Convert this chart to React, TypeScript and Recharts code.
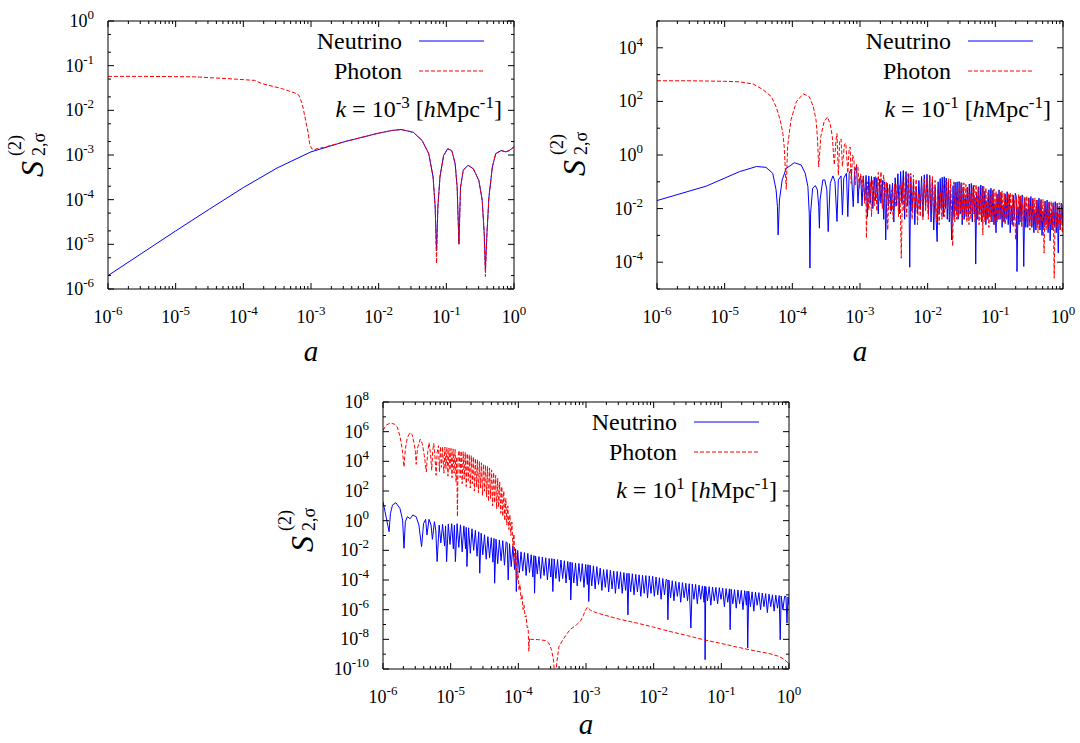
import { Legend, Line, LineChart, XAxis, YAxis } from 'recharts';

const FONT = '"Liberation Serif", "Times New Roman", serif';

// curves, as [log10 a, log10 S] pairs

// k = 1e-3
const p1Neutrino = [
  [-6.0, -5.7], [-5.5, -5.2], [-5.0, -4.7], [-4.5, -4.21], [-4.0, -3.73], [-3.5, -3.29], [-3.0, -2.93],
  [-2.5, -2.7], [-2.0, -2.51], [-1.8, -2.45], [-1.67, -2.43], [-1.49, -2.49], [-1.36, -2.67], [-1.26, -2.97],
  [-1.196, -3.49], [-1.165, -4.16], [-1.145, -5.15], [-1.125, -4.16], [-1.094, -3.49], [-1.04, -3.01],
  [-0.98, -2.86], [-0.92, -2.9], [-0.87, -3.19], [-0.84, -3.72], [-0.814, -4.99], [-0.79, -3.72], [-0.75, -3.34],
  [-0.68, -3.23], [-0.6, -3.31], [-0.52, -3.57], [-0.47, -4.01], [-0.44, -4.76], [-0.423, -5.55], [-0.4, -4.76],
  [-0.37, -3.94], [-0.32, -3.27], [-0.27, -2.97], [-0.19, -2.9], [-0.12, -2.93], [-0.07, -2.9], [0, -2.82],
];

const p1Photon = [
  [-6.0, -1.24], [-5.5, -1.24], [-5.0, -1.245], [-4.72, -1.25], [-4.23, -1.29], [-3.83, -1.33], [-3.73, -1.4],
  [-3.44, -1.51], [-3.24, -1.61], [-3.18, -1.66], [-3.13, -1.85], [-3.08, -2.22], [-3.04, -2.52], [-3.02, -2.75],
  [-2.99, -2.86], [-2.95, -2.88], [-2.89, -2.85], [-2.81, -2.83], [-2.5, -2.7], [-2.0, -2.51], [-1.8, -2.45],
  [-1.67, -2.43], [-1.49, -2.49], [-1.36, -2.67], [-1.26, -2.97], [-1.196, -3.49], [-1.165, -4.16], [-1.145, -5.43],
  [-1.125, -4.16], [-1.094, -3.49], [-1.04, -3.01], [-0.98, -2.86], [-0.92, -2.9], [-0.87, -3.19], [-0.84, -3.72],
  [-0.814, -5.0], [-0.79, -3.72], [-0.75, -3.34], [-0.68, -3.23], [-0.6, -3.31], [-0.52, -3.57], [-0.47, -4.01],
  [-0.44, -4.76], [-0.423, -5.72], [-0.4, -4.76], [-0.37, -3.94], [-0.32, -3.27], [-0.27, -2.97], [-0.19, -2.9],
  [-0.12, -2.93], [-0.07, -2.9], [0, -2.82],
];

// k = 1e-1
const p2Neutrino = [
  [-6.0, -1.7], [-5.27, -1.16], [-4.78, -0.62], [-4.53, -0.43], [-4.39, -0.46], [-4.29, -0.68], [-4.24, -1.3],
  [-4.22, -1.93], [-4.21, -2.98], [-4.19, -1.68], [-4.15, -0.93], [-4.09, -0.5], [-3.97, -0.29], [-3.87, -0.37],
  [-3.81, -0.68], [-3.77, -1.18], [-3.75, -2.17], [-3.74, -4.22], [-3.73, -2.17], [-3.7, -1.24], [-3.66, -1.14],
  [-3.63, -1.3], [-3.61, -1.93], [-3.6, -2.73], [-3.59, -1.68], [-3.55, -0.93], [-3.52, -0.93], [-3.49, -1.3],
  [-3.47, -2.86], [-3.44, -1.06], [-3.4, -0.78], [-3.37, -0.99], [-3.34, -2.48], [-3.32, -0.93], [-3.28, -0.78],
  [-3.26, -2.24], [-3.24, -0.87], [-3.2, -0.68], [-3.18, -2.3], [-3.16, -0.68], [-3.13, -0.53], [-3.1, -1.93],
  [-3.08, -0.62], [-3.05, -0.4], [-3.03, -1.8], [-3.01, -0.93],
  [-2.99, -0.8], [-2.97, -1.9], [-2.95, -0.78], [-2.93, -1.7], [-2.91, -0.76], [-2.89, -2.3], [-2.87, -0.78],
  [-2.85, -1.8], [-2.83, -0.8], [-2.81, -2.0], [-2.79, -0.82], [-2.77, -1.7], [-2.75, -0.85], [-2.73, -2.2],
  [-2.71, -0.9], [-2.69, -1.8], [-2.67, -0.95], [-2.65, -2.4], [-2.635, -1.0], [-2.62, -3.17], [-2.6, -1.05],
  [-2.58, -1.9], [-2.56, -1.1], [-2.54, -2.1], [-2.52, -1.05], [-2.5, -2.5], [-2.48, -0.85], [-2.46, -1.9],
  [-2.44, -0.7], [-2.42, -2.2], [-2.4, -0.62], [-2.38, -1.8], [-2.36, -0.58], [-2.34, -2.4], [-2.32, -0.62],
  [-2.3, -1.9], [-2.28, -0.7], [-2.265, -4.19], [-2.25, -0.8], [-2.23, -2.1], [-2.21, -1.0], [-2.19, -2.6],
  [-2.17, -1.2], [-2.15, -2.2], [-2.13, -0.95], [-2.11, -2.0], [-2.09, -0.8], [-2.07, -2.3], [-2.05, -0.74],
  [-2.03, -1.9], [-2.01, -0.72], [-1.99, -2.2], [-1.97, -0.76], [-1.95, -2.5], [-1.93, -0.9], [-1.91, -2.8],
  [-1.89, -1.2], [-1.875, -2.4], [-1.86, -3.23], [-1.845, -1.0], [-1.83, -2.2], [-1.815, -0.88], [-1.8, -2.0],
  [-1.785, -0.83], [-1.77, -2.3], [-1.755, -0.81], [-1.74, -2.0], [-1.725, -0.86], [-1.71, -2.4], [-1.695, -1.0],
  [-1.68, -2.5], [-1.665, -1.3], [-1.645, -3.17], [-1.625, -1.15], [-1.61, -2.3], [-1.595, -1.02], [-1.58, -2.1],
  [-1.565, -1.0], [-1.55, -2.4], [-1.535, -0.99], [-1.52, -2.2], [-1.505, -1.03], [-1.49, -2.6], [-1.475, -1.2],
  [-1.46, -2.4], [-1.445, -1.5], [-1.43, -2.3], [-1.415, -1.2], [-1.4, -2.3], [-1.385, -1.08], [-1.37, -2.2],
  [-1.355, -1.06], [-1.34, -2.5], [-1.325, -1.12], [-1.31, -2.2], [-1.3, -1.6], [-1.29, -4.07], [-1.275, -1.4],
  [-1.26, -2.4], [-1.245, -1.18], [-1.23, -2.2], [-1.215, -1.12], [-1.2, -2.5], [-1.185, -1.16], [-1.17, -2.3],
  [-1.155, -1.35], [-1.14, -2.6], [-1.125, -1.7], [-1.11, -2.4], [-1.095, -1.3], [-1.08, -2.3], [-1.065, -1.24],
  [-1.05, -2.5], [-1.035, -1.32], [-1.02, -2.6], [-1.005, -1.8], [-0.99, -2.9], [-0.975, -1.45], [-0.96, -2.4],
  [-0.945, -1.3], [-0.93, -2.4], [-0.915, -1.4], [-0.9, -2.7], [-0.885, -1.85], [-0.87, -2.5], [-0.855, -1.45],
  [-0.84, -2.4], [-0.825, -1.37], [-0.81, -2.6], [-0.795, -1.5], [-0.78, -2.9], [-0.765, -1.9], [-0.75, -2.6],
  [-0.735, -1.5], [-0.72, -2.4], [-0.705, -1.43], [-0.69, -1.55], [-0.68, -4.35], [-0.665, -1.95], [-0.65, -2.6],
  [-0.635, -1.55], [-0.62, -2.5], [-0.605, -1.49], [-0.595, -1.52], [-0.58, -4.16], [-0.565, -1.6], [-0.55, -2.7],
  [-0.535, -2.0], [-0.52, -2.7], [-0.505, -1.6], [-0.49, -2.5], [-0.475, -1.55], [-0.46, -2.7], [-0.445, -1.62],
  [-0.43, -2.9], [-0.415, -2.05], [-0.4, -2.8], [-0.385, -1.68], [-0.37, -2.6], [-0.355, -1.61], [-0.34, -2.8],
  [-0.325, -1.66], [-0.31, -3.0], [-0.295, -2.1], [-0.28, -2.7], [-0.265, -1.72], [-0.25, -2.6], [-0.235, -1.68],
  [-0.22, -2.9], [-0.205, -1.75], [-0.19, -3.2], [-0.175, -2.15], [-0.16, -2.8], [-0.145, -1.78], [-0.13, -2.7],
  [-0.115, -1.74], [-0.1, -2.9], [-0.085, -1.8], [-0.07, -3.66], [-0.055, -1.9], [-0.04, -2.8], [-0.025, -1.8],
  [-0.01, -2.6], [0, -1.85],
];

const p2Photon = [
  [-6.0, 2.77], [-5.5, 2.77], [-5.0, 2.75], [-4.78, 2.73], [-4.58, 2.65], [-4.44, 2.45], [-4.31, 2.18],
  [-4.24, 1.8], [-4.18, 1.31], [-4.14, 0.81], [-4.12, 0.31], [-4.09, -1.28], [-4.07, 0.31], [-4.02, 1.31],
  [-3.94, 1.99], [-3.84, 2.28], [-3.75, 2.18], [-3.69, 1.8], [-3.65, 1.31], [-3.63, 0.68], [-3.61, -0.45],
  [-3.58, 0.68], [-3.53, 1.25], [-3.48, 1.42], [-3.44, 1.15], [-3.41, 0.7], [-3.38, -0.37], [-3.355, 0.55],
  [-3.34, 0.8], [-3.32, -0.75], [-3.3, 0.5], [-3.28, 0.6], [-3.26, -0.43], [-3.23, 0.4], [-3.21, 0.45],
  [-3.18, -0.68], [-3.16, 0.25], [-3.145, 0.3], [-3.13, -1.06], [-3.11, 0.0], [-3.09, -0.15], [-3.07, -1.12],
  [-3.05, -0.35], [-3.03, -0.45], [-3.01, -1.24], [-2.99, -0.7], [-2.97, -1.2], [-2.955, -0.8], [-2.93, -1.8],
  [-2.915, -0.95], [-2.905, -3.1], [-2.89, -1.0], [-2.87, -2.05], [-2.85, -0.99], [-2.83, -2.3], [-2.81, -0.92],
  [-2.79, -1.9], [-2.77, -0.8], [-2.75, -2.1], [-2.73, -0.65], [-2.71, -1.7], [-2.69, -0.62], [-2.67, -2.0],
  [-2.65, -0.75], [-2.63, -1.55], [-2.61, -1.0], [-2.59, -2.8], [-2.57, -1.2], [-2.55, -2.2], [-2.53, -1.3],
  [-2.51, -2.4], [-2.49, -1.1], [-2.47, -1.95], [-2.45, -1.05], [-2.43, -2.3], [-2.41, -1.1], [-2.39, -3.85],
  [-2.37, -1.0], [-2.35, -2.1], [-2.33, -0.8], [-2.31, -2.3], [-2.29, -0.7], [-2.27, -1.9], [-2.25, -0.68],
  [-2.23, -2.4], [-2.21, -0.75], [-2.19, -2.0], [-2.17, -0.9], [-2.15, -2.6], [-2.13, -1.4], [-2.11, -2.3],
  [-2.09, -1.05], [-2.07, -2.42], [-2.05, -0.9], [-2.03, -2.1], [-2.01, -0.82], [-1.99, -2.4], [-1.97, -0.78],
  [-1.95, -2.0], [-1.93, -0.8], [-1.91, -2.3], [-1.89, -0.95], [-1.87, -2.5], [-1.85, -1.2], [-1.83, -2.6],
  [-1.81, -1.4], [-1.79, -2.4], [-1.77, -1.1], [-1.75, -2.3], [-1.73, -0.95], [-1.71, -2.0], [-1.69, -0.88],
  [-1.675, -2.4], [-1.66, -0.9], [-1.645, -2.2], [-1.63, -3.4], [-1.615, -1.0], [-1.6, -2.5], [-1.585, -1.3],
  [-1.57, -2.4], [-1.555, -1.2], [-1.54, -2.3], [-1.525, -1.1], [-1.51, -2.1], [-1.495, -1.05], [-1.48, -2.4],
  [-1.465, -1.04], [-1.45, -2.2], [-1.435, -1.1], [-1.42, -2.5], [-1.405, -1.25], [-1.39, -2.6], [-1.375, -1.45],
  [-1.36, -2.4], [-1.345, -1.2], [-1.33, -2.2], [-1.315, -1.12], [-1.3, -2.5], [-1.285, -1.1], [-1.27, -2.3],
  [-1.255, -1.2], [-1.24, -2.6], [-1.225, -1.5], [-1.21, -2.4], [-1.195, -1.25], [-1.185, -2.98], [-1.17, -1.18],
  [-1.155, -2.5], [-1.14, -1.22], [-1.125, -2.4], [-1.11, -1.4], [-1.095, -2.7], [-1.08, -1.5], [-1.065, -2.5],
  [-1.05, -1.32], [-1.035, -2.3], [-1.02, -1.27], [-1.005, -2.6], [-0.99, -1.35], [-0.975, -2.5], [-0.96, -1.5],
  [-0.945, -2.4], [-0.93, -1.38], [-0.915, -2.3], [-0.9, -1.34], [-0.885, -2.5], [-0.87, -1.42], [-0.855, -2.6],
  [-0.84, -1.6], [-0.825, -2.4], [-0.81, -1.45], [-0.795, -2.3], [-0.78, -1.4], [-0.765, -2.5], [-0.75, -1.48],
  [-0.735, -2.7], [-0.72, -1.7], [-0.7, -3.17], [-0.685, -1.6], [-0.67, -2.4], [-0.655, -1.47], [-0.64, -2.5],
  [-0.625, -1.52], [-0.61, -2.7], [-0.595, -1.8], [-0.58, -2.5], [-0.565, -1.58], [-0.55, -2.4], [-0.535, -1.53],
  [-0.52, -2.6], [-0.505, -1.6], [-0.49, -2.8], [-0.475, -1.9], [-0.46, -2.6], [-0.445, -1.65], [-0.43, -2.5],
  [-0.415, -1.6], [-0.4, -2.7], [-0.385, -1.68], [-0.37, -2.9], [-0.355, -2.0], [-0.34, -2.6], [-0.325, -1.7],
  [-0.31, -2.5], [-0.295, -1.66], [-0.28, -3.66], [-0.265, -1.72], [-0.25, -2.8], [-0.235, -2.0], [-0.22, -2.7],
  [-0.205, -1.75], [-0.19, -2.6], [-0.175, -1.72], [-0.16, -2.8], [-0.145, -1.8], [-0.13, -4.6], [-0.115, -1.9],
  [-0.1, -2.7], [-0.085, -1.8], [-0.07, -2.6], [-0.055, -1.78], [-0.04, -2.8], [-0.025, -1.85], [-0.01, -2.9],
  [0, -2.0],
];

// k = 1e1
const p3Neutrino = [
  [-6.0, 1.28], [-5.97, 0.61], [-5.94, -0.07], [-5.91, -0.74], [-5.89, 0.49], [-5.86, 1.05], [-5.81, 1.21],
  [-5.75, 0.83], [-5.71, 0.04], [-5.69, -1.86], [-5.67, -0.07], [-5.64, 0.27], [-5.6, 0.13], [-5.56, 0.38],
  [-5.51, 0.27], [-5.47, -0.29], [-5.43, -1.75], [-5.4, -0.18], [-5.37, 0.09], [-5.35, -0.96], [-5.32, 0.09],
  [-5.29, -0.29], [-5.27, -1.26], [-5.24, -0.07], [-5.22, -0.63], [-5.2, -2.76],
  [-5.17, -0.3], [-5.145, -1.5], [-5.12, -0.25], [-5.09, -1.7], [-5.075, -0.35], [-5.06, -2.76], [-5.035, -0.22],
  [-5.01, -1.6], [-4.985, -0.2], [-4.96, -1.9], [-4.945, -0.3], [-4.93, -2.76], [-4.905, -0.2], [-4.88, -1.8],
  [-4.855, -0.28], [-4.83, -2.1], [-4.805, -0.35], [-4.78, -1.9], [-4.77, -0.45], [-4.76, -3.09], [-4.735, -0.48],
  [-4.71, -2.2], [-4.685, -0.55], [-4.66, -2.0], [-4.635, -0.65], [-4.61, -2.4], [-4.585, -0.75], [-4.57, -3.54],
  [-4.55, -0.85], [-4.525, -2.3], [-4.5, -0.95], [-4.475, -2.6], [-4.45, -1.08], [-4.425, -2.5], [-4.4, -1.15],
  [-4.375, -2.8], [-4.36, -1.2], [-4.35, -4.22], [-4.33, -1.25], [-4.305, -2.9], [-4.28, -1.3], [-4.255, -2.7],
  [-4.23, -1.35], [-4.205, -3.0], [-4.18, -1.42], [-4.165, -1.5], [-4.15, -3.99], [-4.13, -1.55], [-4.105, -3.1],
  [-4.08, -1.7], [-4.055, -3.3], [-4.04, -1.9], [-4.03, -4.78], [-4.01, -2.0],
  [-3.985, -3.5], [-3.96, -2.1], [-3.935, -3.4], [-3.91, -2.15], [-3.885, -3.7], [-3.86, -2.2], [-3.835, -3.5],
  [-3.81, -2.3], [-3.785, -3.8], [-3.77, -2.35], [-3.76, -4.89], [-3.745, -2.38], [-3.72, -3.6], [-3.695, -2.42],
  [-3.67, -3.9], [-3.645, -2.45], [-3.62, -3.7], [-3.595, -2.5], [-3.57, -4.0], [-3.545, -2.55], [-3.52, -3.8],
  [-3.505, -2.55], [-3.49, -4.78], [-3.47, -2.58], [-3.445, -3.9], [-3.42, -2.62], [-3.395, -4.1], [-3.37, -2.65],
  [-3.345, -3.9], [-3.32, -2.7], [-3.295, -4.2], [-3.27, -2.75], [-3.245, -4.0], [-3.235, -2.8], [-3.225, -5.34],
  [-3.205, -2.82], [-3.18, -4.2], [-3.155, -2.85], [-3.13, -4.4], [-3.105, -2.88], [-3.08, -4.1], [-3.055, -2.9],
  [-3.03, -4.5], [-3.005, -2.95], [-2.98, -4.3], [-2.97, -2.97], [-2.96, -5.45], [-2.94, -3.0], [-2.915, -4.4],
  [-2.89, -3.05], [-2.865, -4.6], [-2.84, -3.1], [-2.815, -4.3], [-2.79, -3.2], [-2.765, -4.7], [-2.74, -3.3],
  [-2.715, -4.5], [-2.69, -3.3], [-2.665, -4.8], [-2.64, -3.35], [-2.615, -4.6], [-2.59, -3.4], [-2.565, -4.9],
  [-2.54, -3.42], [-2.515, -4.6], [-2.49, -3.45], [-2.465, -4.9], [-2.44, -3.5], [-2.415, -4.7], [-2.395, -3.55],
  [-2.38, -6.35], [-2.365, -3.55], [-2.34, -4.8], [-2.315, -3.58], [-2.29, -5.0], [-2.265, -3.62], [-2.24, -4.8],
  [-2.215, -3.65], [-2.19, -5.1], [-2.165, -3.68], [-2.14, -4.9], [-2.115, -3.7], [-2.09, -5.2], [-2.065, -3.72],
  [-2.04, -4.9], [-2.015, -3.75],
  [-1.99, -5.1], [-1.965, -3.8], [-1.94, -5.0], [-1.915, -3.85], [-1.89, -5.3], [-1.865, -3.9], [-1.84, -5.0],
  [-1.815, -3.95], [-1.8, -4.0], [-1.79, -6.68], [-1.775, -4.0], [-1.75, -5.2], [-1.725, -4.05], [-1.7, -5.4],
  [-1.675, -4.1], [-1.65, -5.1], [-1.625, -4.15], [-1.6, -5.5], [-1.575, -4.18], [-1.55, -5.2], [-1.525, -4.22],
  [-1.5, -5.4], [-1.475, -4.25], [-1.45, -7.24], [-1.43, -4.28], [-1.405, -5.3], [-1.38, -4.3], [-1.355, -5.6],
  [-1.33, -4.35], [-1.305, -5.3], [-1.28, -4.4], [-1.255, -5.5], [-1.245, -4.42], [-1.24, -9.37], [-1.23, -4.45],
  [-1.205, -5.4], [-1.18, -4.45], [-1.155, -5.7], [-1.13, -4.48], [-1.105, -5.4], [-1.08, -4.5], [-1.055, -5.6],
  [-1.03, -4.52], [-1.005, -5.3],
  [-0.98, -4.55], [-0.955, -5.8], [-0.93, -4.58], [-0.905, -5.5], [-0.88, -4.6], [-0.87, -7.35], [-0.855, -4.62],
  [-0.83, -5.6], [-0.805, -4.65], [-0.78, -5.9], [-0.755, -4.67], [-0.73, -5.6], [-0.705, -4.7], [-0.68, -6.0],
  [-0.655, -4.72], [-0.63, -5.7], [-0.62, -4.75], [-0.61, -8.58], [-0.595, -4.76], [-0.57, -5.8], [-0.545, -4.8],
  [-0.52, -6.1], [-0.495, -4.82], [-0.47, -5.7], [-0.445, -4.85], [-0.42, -6.0], [-0.395, -4.88], [-0.37, -5.8],
  [-0.345, -4.92], [-0.32, -6.2], [-0.295, -4.95], [-0.27, -5.8], [-0.245, -5.0], [-0.22, -6.1], [-0.195, -5.02],
  [-0.17, -5.9], [-0.145, -5.05], [-0.13, -8.03], [-0.115, -5.08], [-0.09, -6.0], [-0.065, -5.1], [-0.045, -5.12],
  [-0.03, -6.91], [-0.015, -5.15], [0, -5.7],
];

const p3Photon = [
  [-6.0, 6.1], [-5.95, 6.45], [-5.89, 6.59], [-5.83, 6.5], [-5.79, 6.32], [-5.75, 5.7], [-5.73, 5.2],
  [-5.71, 4.6], [-5.69, 3.62], [-5.67, 4.8], [-5.64, 5.6], [-5.6, 5.94], [-5.57, 5.8], [-5.54, 5.2],
  [-5.52, 4.6], [-5.51, 3.8], [-5.49, 4.9], [-5.45, 5.49], [-5.42, 5.2], [-5.39, 4.4], [-5.36, 3.29],
  [-5.34, 4.6], [-5.32, 5.25], [-5.3, 4.6], [-5.28, 3.4], [-5.265, 4.7], [-5.25, 5.2], [-5.235, 4.5],
  [-5.215, 3.06], [-5.2, 4.6], [-5.18, 5.05],
  [-5.165, 3.3], [-5.15, 5.0], [-5.135, 3.6], [-5.12, 4.98], [-5.1, 3.2], [-5.085, 4.96], [-5.07, 3.5],
  [-5.055, 4.93], [-5.04, 3.0], [-5.025, 4.9], [-5.01, 3.4], [-4.995, 4.87], [-4.98, 2.9], [-4.965, 4.84],
  [-4.95, 3.2], [-4.935, 4.8], [-4.92, 2.6], [-4.91, 4.3], [-4.9, 0.27], [-4.89, 4.3], [-4.875, 4.74],
  [-4.86, 2.9], [-4.845, 4.7], [-4.83, 2.5], [-4.815, 4.65], [-4.8, 2.8], [-4.785, 4.6], [-4.77, 2.3],
  [-4.755, 4.53], [-4.74, 2.7], [-4.725, 4.45], [-4.71, 2.2], [-4.695, 4.38], [-4.68, 2.5], [-4.665, 4.3],
  [-4.65, 2.0], [-4.635, 4.2], [-4.62, 2.3], [-4.605, 4.1], [-4.59, 1.9], [-4.575, 3.98], [-4.56, 2.2],
  [-4.545, 3.9], [-4.53, 1.7], [-4.515, 3.82], [-4.5, 2.0], [-4.485, 3.74], [-4.47, 1.6], [-4.455, 3.65],
  [-4.44, 1.3], [-4.425, 3.55], [-4.41, 1.5], [-4.395, 3.42], [-4.38, 1.0], [-4.365, 3.25], [-4.35, 1.2],
  [-4.335, 3.05], [-4.32, 0.8], [-4.305, 2.85], [-4.29, 0.9], [-4.275, 2.6], [-4.26, 0.5], [-4.245, 2.3],
  [-4.23, 0.3], [-4.215, 2.0], [-4.2, 0.0], [-4.185, 1.5], [-4.17, -0.3], [-4.155, 1.0], [-4.14, -0.6],
  [-4.125, 0.4], [-4.11, -1.0], [-4.095, -0.1], [-4.08, -1.8], [-4.065, -0.9], [-4.05, -2.9], [-4.035, -2.2],
  [-4.02, -4.0], [-4.005, -3.4], [-3.99, -4.7], [-3.975, -4.3], [-3.96, -5.3], [-3.945, -5.0], [-3.93, -6.0],
  [-3.915, -5.7], [-3.9, -6.5], [-3.885, -6.4], [-3.87, -7.2], [-3.855, -7.2], [-3.845, -8.8], [-3.835, -7.9],
  [-3.82, -8.0], [-3.7, -8.02], [-3.6, -8.08], [-3.55, -8.25], [-3.51, -8.7], [-3.48, -9.4], [-3.465, -10.3],
  [-3.455, -11.0], [-3.445, -10.3], [-3.43, -9.5], [-3.4, -8.5], [-3.33, -7.95], [-3.24, -7.36], [-3.14, -7.02],
  [-3.08, -6.75], [-3.04, -6.4], [-3.01, -6.05], [-2.98, -5.83], [-2.93, -6.05], [-2.85, -6.2], [-2.74, -6.35],
  [-2.5, -6.65], [-2.25, -6.9], [-2.0, -7.18], [-1.76, -7.47], [-1.5, -7.75], [-1.26, -8.03], [-1.0, -8.28],
  [-0.77, -8.52], [-0.5, -8.78], [-0.28, -8.97], [-0.15, -9.15], [-0.07, -9.35], [0, -9.65],
];

// axis decades (exponents of the labelled ticks)
const X_MAJOR = [-6, -5, -4, -3, -2, -1, 0];
const X_MINOR_STEPS = [2, 3, 4, 5, 6, 7, 8, 9];
const P1_Y_MAJOR = [-6, -5, -4, -3, -2, -1, 0];
const P1_Y_MINOR_STEPS = [2, 5];
const P2_Y_MAJOR = [-4, -2, 0, 2, 4];
const P2_Y_MINOR = [-5, -3, -1, 1, 3, 5];
const P3_Y_MAJOR = [-10, -8, -6, -4, -2, 0, 2, 4, 6, 8];
const P3_Y_MINOR = [-9, -7, -5, -3, -1, 1, 3, 5, 7];

const pow10 = (e: number) => Number(`1e${e}`);
const withSteps = (decades: number[], steps: number[]) =>
  decades.slice(0, -1).flatMap((e) => steps.map((m) => m * pow10(e)));
const sorted = (arr: number[]) => [...arr].sort((a, b) => a - b);

const X_TICKS = sorted([...X_MAJOR.map(pow10), ...withSteps(X_MAJOR, X_MINOR_STEPS)]);
const P1_Y_TICKS = sorted([...P1_Y_MAJOR.map(pow10), ...withSteps(P1_Y_MAJOR, P1_Y_MINOR_STEPS)]);
const P2_Y_TICKS = sorted([...P2_Y_MAJOR, ...P2_Y_MINOR].map(pow10));
const P3_Y_TICKS = sorted([...P3_Y_MAJOR, ...P3_Y_MINOR].map(pow10));

const toRows = (pairs: number[][]) => pairs.map(([la, ls]) => ({ a: 10 ** la, s: 10 ** ls }));

const CHART_W = 1080;
const CHART_H = 743;
const LEFT_W = 60;
const RIGHT_W = 8;
const TOP_H = 8;
const BOTTOM_H = 60;
const MAJOR_LEN = 6;
const MINOR_LEN = 3;

const isMajor = (v: number, majors: number[]) => majors.some((m) => Math.abs(Math.log10(v) - m) < 1e-6);
const expOf = (v: number) => Math.round(Math.log10(v));

const bottomTick = (props: any) => {
  const { x, y, payload } = props;
  const major = isMajor(payload.value, X_MAJOR);
  return (
    <g>
      <line x1={x} x2={x} y1={y} y2={y - (major ? MAJOR_LEN : MINOR_LEN)} stroke="#000" />
      {major && (
        <text x={x} y={y + 34} textAnchor="middle" fontFamily={FONT} fontSize={18} fill="#000">
          10<tspan dy={-8} fontSize={13}>{expOf(payload.value)}</tspan>
        </text>
      )}
    </g>
  );
};

const topTick = (props: any) => {
  const { x, y, payload } = props;
  const major = isMajor(payload.value, X_MAJOR);
  return <line x1={x} x2={x} y1={y} y2={y + (major ? MAJOR_LEN : MINOR_LEN)} stroke="#000" />;
};

const leftTick = (majors: number[]) => (props: any) => {
  const { x, y, payload } = props;
  const major = isMajor(payload.value, majors);
  return (
    <g>
      <line x1={x} x2={x + (major ? MAJOR_LEN : MINOR_LEN)} y1={y} y2={y} stroke="#000" />
      {major && (
        <text x={x - 14} y={y + 6} textAnchor="end" fontFamily={FONT} fontSize={18} fill="#000">
          10<tspan dy={-8} fontSize={13}>{expOf(payload.value)}</tspan>
        </text>
      )}
    </g>
  );
};

const rightTick = (majors: number[]) => (props: any) => {
  const { x, y, payload } = props;
  const major = isMajor(payload.value, majors);
  return <line x1={x} x2={x - (major ? MAJOR_LEN : MINOR_LEN)} y1={y} y2={y} stroke="#000" />;
};

type Frame = { left: number; top: number; right: number; bottom: number };

function PanelLegend({ payload, frame, kExp }: any) {
  const items = payload ?? [];
  return (
    <svg
      width={CHART_W}
      height={CHART_H}
      style={{ position: 'absolute', left: 0, top: 0, overflow: 'visible', pointerEvents: 'none' }}
    >
      {items.map((item: any, i: number) => {
        const y = frame.top + 20 + i * 30;
        return (
          <g key={item.value}>
            <text x={frame.right - 112} y={y + 8} textAnchor="end" fontFamily={FONT} fontSize={24} fill="#000">
              {item.value}
            </text>
            <line
              x1={frame.right - 95}
              x2={frame.right - 30}
              y1={y}
              y2={y}
              stroke={item.color}
              strokeWidth={1}
              strokeDasharray={item.value === 'Photon' ? '4 2' : undefined}
            />
          </g>
        );
      })}
      <text x={frame.right - 12} y={frame.top + 96} textAnchor="end" fontFamily={FONT} fontSize={24} fill="#000">
        <tspan fontStyle="italic">k</tspan> = 10
        <tspan dy={-9} fontSize={17}>{kExp}</tspan>
        <tspan dy={9}> [</tspan>
        <tspan fontStyle="italic">h</tspan>Mpc
        <tspan dy={-9} fontSize={17}>-1</tspan>
        <tspan dy={9}>]</tspan>
      </text>
    </svg>
  );
}

function YTitle({ x, y }: { x: number; y: number }) {
  return (
    <g transform={`translate(${x},${y}) rotate(-90)`} fontFamily={FONT} fill="#000">
      <text x={0} y={0} fontSize={32} fontStyle="italic">S</text>
      <text x={21} y={-22} fontSize={18}>(2)</text>
      <text x={21} y={2} fontSize={18}>2,σ</text>
    </g>
  );
}

interface PanelProps {
  frame: Frame;
  yDomain: [number, number];
  yTicks: number[];
  yMajor: number[];
  neutrino: number[][];
  photon: number[][];
  kExp: string;
  titleX: number;
  titleY: number;
  aBaseline: number;
}

function Panel({ frame, yDomain, yTicks, yMajor, neutrino, photon, kExp, titleX, titleY, aBaseline }: PanelProps) {
  const margin = {
    left: frame.left - LEFT_W,
    right: CHART_W - frame.right - RIGHT_W,
    top: frame.top - TOP_H,
    bottom: CHART_H - frame.bottom - BOTTOM_H,
  };
  const axisLine = { stroke: '#000', strokeWidth: 1 };
  const xCommon = {
    type: 'number' as const,
    dataKey: 'a',
    scale: 'log' as const,
    domain: [1e-6, 1],
    allowDataOverflow: true,
    ticks: X_TICKS,
    interval: 0 as const,
    tickSize: 0,
    tickMargin: 0,
    tickLine: false,
    axisLine,
  };
  const yCommon = {
    type: 'number' as const,
    scale: 'log' as const,
    domain: yDomain,
    allowDataOverflow: true,
    ticks: yTicks,
    interval: 0 as const,
    tickSize: 0,
    tickMargin: 0,
    tickLine: false,
    axisLine,
  };
  return (
    <div style={{ position: 'absolute', left: 0, top: 0 }}>
      <LineChart width={CHART_W} height={CHART_H} margin={margin}>
        <XAxis
          {...xCommon}
          xAxisId="b"
          orientation="bottom"
          height={BOTTOM_H}
          tick={bottomTick}
          label={{
            content: () => (
              <text
                x={(frame.left + frame.right) / 2}
                y={aBaseline}
                textAnchor="middle"
                fontFamily={FONT}
                fontSize={29}
                fontStyle="italic"
                fill="#000"
              >
                a
              </text>
            ),
          }}
        />
        <XAxis {...xCommon} xAxisId="t" orientation="top" height={TOP_H} tick={topTick} />
        <YAxis
          {...yCommon}
          yAxisId="l"
          orientation="left"
          width={LEFT_W}
          tick={leftTick(yMajor)}
          label={{ content: () => <YTitle x={titleX} y={titleY} /> }}
        />
        <YAxis {...yCommon} yAxisId="r" orientation="right" width={RIGHT_W} tick={rightTick(yMajor)} />
        <Legend
          verticalAlign="middle"
          align="center"
          layout="horizontal"
          wrapperStyle={{ left: 0, top: 0, width: CHART_W, height: CHART_H }}
          content={(props: any) => <PanelLegend payload={props.payload} frame={frame} kExp={kExp} />}
        />
        <Line
          xAxisId="b"
          yAxisId="l"
          data={toRows(neutrino)}
          dataKey="s"
          name="Neutrino"
          type="linear"
          stroke="#0000ff"
          strokeWidth={1}
          dot={false}
          activeDot={false}
          isAnimationActive={false}
        />
        <Line
          xAxisId="b"
          yAxisId="l"
          data={toRows(photon)}
          dataKey="s"
          name="Photon"
          type="linear"
          stroke="#ff0000"
          strokeWidth={1}
          strokeDasharray="4 2"
          dot={false}
          activeDot={false}
          isAnimationActive={false}
        />
      </LineChart>
    </div>
  );
}

export default function App() {
  return (
    <div
      style={{
        position: 'absolute',
        left: 0,
        top: 0,
        width: CHART_W,
        height: CHART_H,
        background: '#fff',
        fontFamily: FONT,
        overflow: 'hidden',
      }}
    >
      <Panel
        frame={{ left: 108, top: 21, right: 514, bottom: 289 }}
        yDomain={[1e-6, 1]}
        yTicks={P1_Y_TICKS}
        yMajor={P1_Y_MAJOR}
        neutrino={p1Neutrino}
        photon={p1Photon}
        kExp="-3"
        titleX={43}
        titleY={177}
        aBaseline={361}
      />
      <Panel
        frame={{ left: 657, top: 21, right: 1063, bottom: 289 }}
        yDomain={[1e-5, 1e5]}
        yTicks={P2_Y_TICKS}
        yMajor={P2_Y_MAJOR}
        neutrino={p2Neutrino}
        photon={p2Photon}
        kExp="-1"
        titleX={585}
        titleY={176}
        aBaseline={361}
      />
      <Panel
        frame={{ left: 383, top: 402, right: 789, bottom: 669 }}
        yDomain={[1e-10, 1e8]}
        yTicks={P3_Y_TICKS}
        yMajor={P3_Y_MAJOR}
        neutrino={p3Neutrino}
        photon={p3Photon}
        kExp="1"
        titleX={313}
        titleY={552}
        aBaseline={734}
      />
    </div>
  );
}
